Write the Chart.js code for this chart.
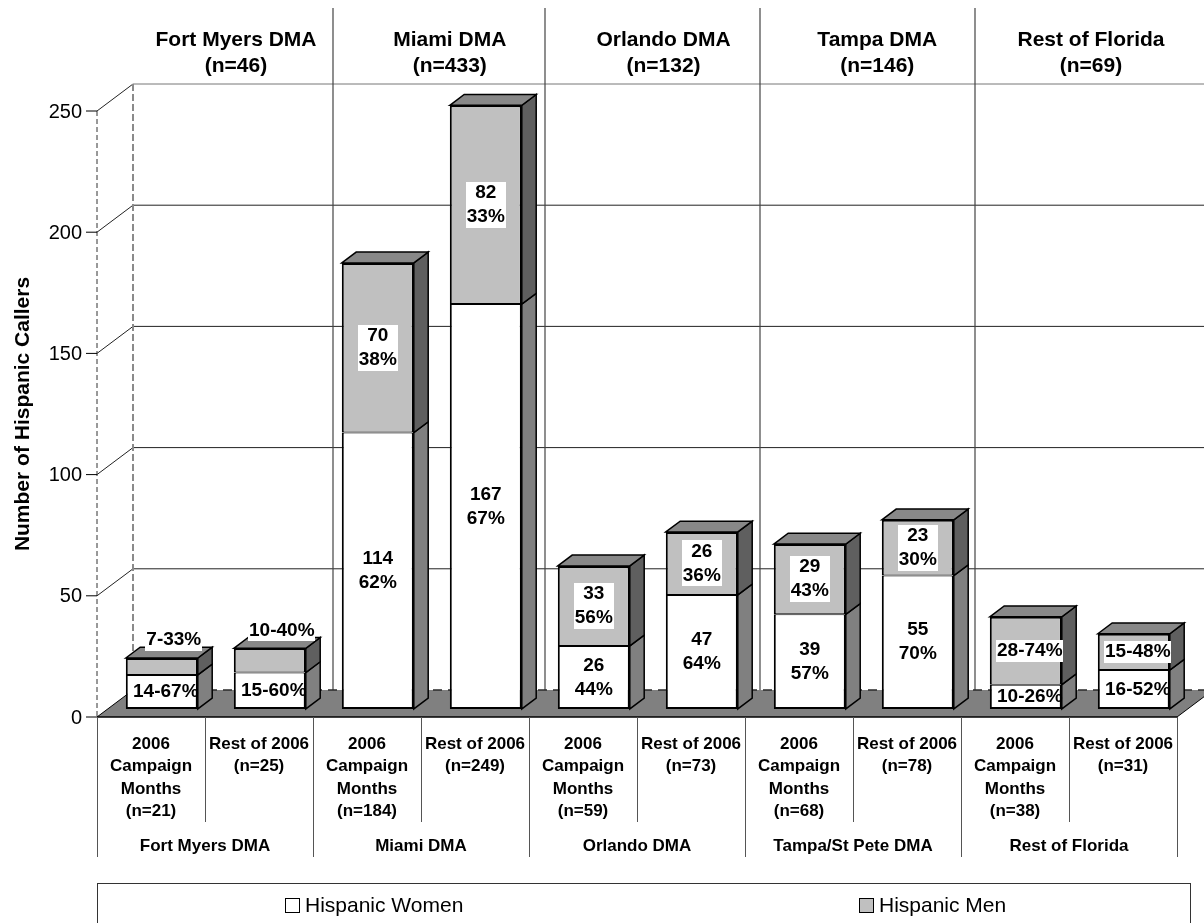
<!DOCTYPE html>
<html>
<head>
<meta charset="utf-8">
<title>Hispanic Callers by DMA</title>
<script src="https://cdn.jsdelivr.net/npm/chart.js@4.4.1/dist/chart.umd.min.js"></script>
<style>
  html, body { margin: 0; padding: 0; background: #fff; }
  #wrap { width: 1204px; height: 923px; position: relative; overflow: hidden; }
</style>
</head>
<body>
<div id="wrap"><canvas id="chart" width="1204" height="923"></canvas></div>
<script>
// ---- data ----
const categoryLines = [
  ['2006', 'Campaign', 'Months', '(n=21)'], ['Rest of 2006', '(n=25)'],
  ['2006', 'Campaign', 'Months', '(n=184)'], ['Rest of 2006', '(n=249)'],
  ['2006', 'Campaign', 'Months', '(n=59)'], ['Rest of 2006', '(n=73)'],
  ['2006', 'Campaign', 'Months', '(n=68)'], ['Rest of 2006', '(n=78)'],
  ['2006', 'Campaign', 'Months', '(n=38)'], ['Rest of 2006', '(n=31)']
];
const regions = ['Fort Myers DMA', 'Miami DMA', 'Orlando DMA', 'Tampa/St Pete DMA', 'Rest of Florida'];
const regionTitles = ['Fort Myers DMA', 'Miami DMA', 'Orlando DMA', 'Tampa DMA', 'Rest of Florida'];
const regionTotals = ['(n=46)', '(n=433)', '(n=132)', '(n=146)', '(n=69)'];
const women = [14, 15, 114, 167, 26, 47, 39, 55, 10, 16];
const men = [7, 10, 70, 82, 33, 26, 29, 23, 28, 15];
const womenPct = [67, 60, 62, 67, 44, 64, 57, 70, 26, 52];
const menPct = [33, 40, 38, 33, 56, 36, 43, 30, 74, 48];
const yTicks = [0, 50, 100, 150, 200, 250];
const seriesNames = ['Hispanic Women', 'Hispanic Men'];

// ---- drawing constants ----
const FONT = "'Liberation Sans', Arial, Helvetica, sans-serif";
const DEPTH_X = 36, DEPTH_Y = -27;          // full floor depth
const BAR_OFF = 0.3, BAR_DEPTH = 0.4;       // bar placement inside the depth
const OX = DEPTH_X * BAR_OFF, OY = DEPTH_Y * BAR_OFF;
const BX = DEPTH_X * BAR_DEPTH, BY = DEPTH_Y * BAR_DEPTH;
const FRONT = ['#ffffff', '#c0c0c0'];
const SIDE = ['#808080', '#5f5f5f'];
const TOP = '#888888';
const singleLineRegions = ['Fort Myers DMA', 'Rest of Florida'];

function line(ctx, x1, y1, x2, y2) {
  ctx.beginPath(); ctx.moveTo(x1, y1); ctx.lineTo(x2, y2); ctx.stroke();
}
function poly(ctx, pts, fill) {
  ctx.beginPath();
  ctx.moveTo(pts[0][0], pts[0][1]);
  for (let k = 1; k < pts.length; k++) ctx.lineTo(pts[k][0], pts[k][1]);
  ctx.closePath();
  ctx.fillStyle = fill; ctx.fill();
  ctx.stroke();
}

const scene3d = {
  id: 'scene3d',
  beforeDatasetsDraw(chart) {
    const ctx = chart.ctx, ca = chart.chartArea;
    const yS = chart.scales.y;
    const y0 = yS.getPixelForValue(0);
    const yMax = yS.getPixelForValue(yTicks[yTicks.length - 1]);
    ctx.save();
    // back wall grid and side wall diagonals
    ctx.lineWidth = 1;
    yTicks.forEach(t => {
      if (t === 0) return;
      const yf = yS.getPixelForValue(t);
      ctx.strokeStyle = t === yTicks[yTicks.length - 1] ? '#777' : '#222';
      line(ctx, ca.left + DEPTH_X, yf + DEPTH_Y, ca.right + DEPTH_X, yf + DEPTH_Y);
      ctx.strokeStyle = '#222';
      line(ctx, ca.left, yf, ca.left + DEPTH_X, yf + DEPTH_Y);
    });
    // region dividers running from the header band down the back wall
    ctx.strokeStyle = '#444';
    ctx.lineWidth = 1.2;
    [333, 545, 760, 975].forEach(x => line(ctx, x, 8, x, y0 + DEPTH_Y));
    // left wall edges
    ctx.setLineDash([5, 3]);
    ctx.strokeStyle = '#333'; ctx.lineWidth = 1;
    line(ctx, ca.left, yMax, ca.left, y0);
    ctx.setLineDash([7, 3]);
    ctx.strokeStyle = '#8a8a8a'; ctx.lineWidth = 2;
    line(ctx, ca.left + DEPTH_X, yMax + DEPTH_Y, ca.left + DEPTH_X, y0 + DEPTH_Y);
    ctx.setLineDash([]);
    // floor
    ctx.strokeStyle = '#000'; ctx.lineWidth = 1;
    ctx.beginPath();
    ctx.moveTo(ca.left, y0); ctx.lineTo(ca.right, y0);
    ctx.lineTo(ca.right + DEPTH_X, y0 + DEPTH_Y); ctx.lineTo(ca.left + DEPTH_X, y0 + DEPTH_Y);
    ctx.closePath();
    ctx.fillStyle = '#808080'; ctx.fill();
    line(ctx, ca.left, y0, ca.left + DEPTH_X, y0 + DEPTH_Y);
    line(ctx, ca.right, y0, ca.right + DEPTH_X, y0 + DEPTH_Y);
    ctx.setLineDash([9, 6]);
    ctx.strokeStyle = '#2a2a2a'; ctx.lineWidth = 1.5;
    line(ctx, ca.left + DEPTH_X, y0 + DEPTH_Y, ca.right + DEPTH_X, y0 + DEPTH_Y);
    ctx.setLineDash([]);
    ctx.strokeStyle = '#000'; ctx.lineWidth = 1.5;
    line(ctx, ca.left, y0, ca.right, y0);
    ctx.restore();
    // bars are drawn in the middle of the floor depth
    ctx.save();
    ctx.translate(OX, OY);
  },
  afterDatasetsDraw(chart) {
    const ctx = chart.ctx;
    ctx.restore();
    const metas = [chart.getDatasetMeta(0), chart.getDatasetMeta(1)];
    ctx.save();
    ctx.strokeStyle = '#000';
    ctx.lineWidth = 1.5;
    ctx.lineJoin = 'miter';
    for (let i = 0; i < women.length; i++) {
      metas.forEach((meta, d) => {
        const el = meta.data[i];
        const L = el.x - el.width / 2 + OX, R = L + el.width;
        const top = el.y + OY, bot = el.base + OY;
        poly(ctx, [[R, top], [R + BX, top + BY], [R + BX, bot + BY], [R, bot]], SIDE[d]);
        if (d === metas.length - 1) {
          poly(ctx, [[L, top], [L + BX, top + BY], [R + BX, top + BY], [R, top]], TOP);
        }
      });
    }
    ctx.restore();
    drawValueLabels(chart, metas);
  },
  afterDraw(chart) {
    drawFrameText(chart);
  }
};

function drawValueLabels(chart, metas) {
  const ctx = chart.ctx;
  ctx.save();
  ctx.font = `bold 19px ${FONT}`;
  ctx.textAlign = 'center';
  ctx.textBaseline = 'middle';
  const lh = 24;
  for (let i = 0; i < women.length; i++) {
    const single = singleLineRegions.includes(regions[Math.floor(i / 2)]);
    [[women, womenPct], [men, menPct]].forEach(([vals, pcts], d) => {
      const el = metas[d].data[i];
      const L = el.x - el.width / 2 + OX, R = L + el.width;
      const top = el.y + OY, bot = el.base + OY;
      let cx = (L + R) / 2, cy = (top + bot) / 2;
      const lines = single ? [`${vals[i]}-${pcts[i]}%`] : [`${vals[i]}`, `${pcts[i]}%`];
      if (single) cx += 4;
      if (single && d === 1 && bot - top < 30) { cx += 8; cy = top - 18; }
      if (d === 1) {
        const w = Math.max(...lines.map(s => ctx.measureText(s).width)) + 2;
        const h = lines.length * lh - 2;
        ctx.fillStyle = '#fff';
        ctx.fillRect(Math.round(cx - w / 2), Math.round(cy - h / 2), Math.round(w), Math.round(h));
      }
      ctx.fillStyle = '#000';
      lines.forEach((s, k) => ctx.fillText(s, cx, cy + (k - (lines.length - 1) / 2) * lh));
    });
  }
  ctx.restore();
}

function drawFrameText(chart) {
  const ctx = chart.ctx, ca = chart.chartArea;
  const xS = chart.scales.x, yS = chart.scales.y;
  const y0 = yS.getPixelForValue(0);
  const half = (xS.getPixelForValue(1) - xS.getPixelForValue(0)) / 2;
  ctx.save();
  ctx.fillStyle = '#000';
  ctx.strokeStyle = '#000';

  // value axis ticks and labels
  ctx.lineWidth = 1;
  ctx.font = `20px ${FONT}`;
  ctx.textAlign = 'right'; ctx.textBaseline = 'middle';
  yTicks.forEach(t => {
    const y = yS.getPixelForValue(t);
    line(ctx, ca.left - 11, y, ca.left, y);
    ctx.fillText(String(t), ca.left - 15, y + 1);
  });

  // axis title
  ctx.save();
  ctx.translate(23, (ca.top + ca.bottom) / 2);
  ctx.rotate(-Math.PI / 2);
  ctx.font = `bold 21px ${FONT}`;
  ctx.textAlign = 'center';
  ctx.fillText('Number of Hispanic Callers', 0, 0);
  ctx.restore();

  // category table
  ctx.strokeStyle = '#555';
  ctx.lineWidth = 1;
  for (let i = 0; i <= categoryLines.length; i++) {
    const x = Math.round(xS.getPixelForValue(0) - half + i * 2 * half) + 0.5;
    line(ctx, x, y0, x, i % 2 === 0 ? 857 : 822);
  }
  ctx.font = `bold 17px ${FONT}`;
  ctx.textAlign = 'center'; ctx.textBaseline = 'middle';
  categoryLines.forEach((lines, i) => {
    const x = xS.getPixelForValue(i);
    lines.forEach((s, k) => ctx.fillText(s, x, 744 + k * 22.6));
  });
  regions.forEach((r, g) => {
    const x = (xS.getPixelForValue(2 * g) + xS.getPixelForValue(2 * g + 1)) / 2;
    ctx.fillText(r, x, 846);
  });

  // region headers
  ctx.font = `bold 21px ${FONT}`;
  regionTitles.forEach((r, g) => {
    const x = 236 + g * 213.75;
    ctx.fillText(r, x, 40);
    ctx.fillText(regionTotals[g], x, 66);
  });

  // legend
  ctx.strokeStyle = '#333';
  ctx.lineWidth = 1;
  ctx.strokeRect(97.5, 883.5, 1093, 60);
  ctx.font = `21px ${FONT}`;
  ctx.textAlign = 'left';
  const legendX = [285, 859];
  seriesNames.forEach((name, d) => {
    ctx.fillStyle = FRONT[d];
    ctx.fillRect(legendX[d] + 0.5, 898.5, 14, 14);
    ctx.strokeStyle = '#000';
    ctx.strokeRect(legendX[d] + 0.5, 898.5, 14, 14);
    ctx.fillStyle = '#000';
    ctx.fillText(name, legendX[d] + 20, 906);
  });
  ctx.restore();
}

const barDataset = (d, values) => ({
  label: seriesNames[d],
  data: values,
  backgroundColor: FRONT[d],
  borderColor: '#000',
  borderWidth: d === 0 ? { left: 2, right: 2, bottom: 2, top: 1 } : { left: 2, right: 2, bottom: 1, top: 2 },
  borderSkipped: false,
  barPercentage: 2 / 3,
  categoryPercentage: 1,
  stack: 'callers',
  clip: false
});

new Chart(document.getElementById('chart'), {
  type: 'bar',
  data: {
    labels: categoryLines,
    datasets: [barDataset(0, women), barDataset(1, men)]
  },
  options: {
    responsive: false,
    animation: false,
    devicePixelRatio: 1,
    layout: { padding: { left: 97, right: 27, top: 111, bottom: 206 } },
    plugins: { legend: { display: false }, tooltip: { enabled: false } },
    scales: {
      x: { stacked: true, display: false, offset: true },
      y: { stacked: true, display: false, min: 0, max: 250 }
    }
  },
  plugins: [scene3d]
});
</script>
</body>
</html>
